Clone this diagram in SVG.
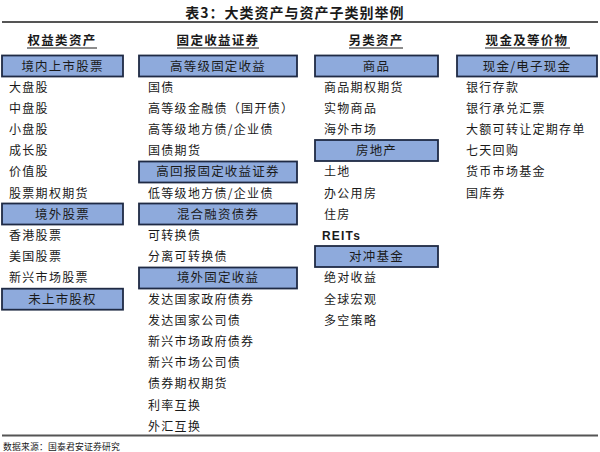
<svg xmlns="http://www.w3.org/2000/svg" width="600" height="452" viewBox="0 0 600 452">
<style>
text{font-family:"Noto Sans CJK SC","Noto Sans",sans-serif;fill:#1a1a1a}
.t{font-size:14px;font-weight:bold;letter-spacing:1px}
.h{font-size:12.5px;font-weight:bold;letter-spacing:1.3px;text-anchor:middle}
.b{fill:#8eaadc;stroke:#1f2a44;stroke-width:1.8}
.bt{font-size:12.5px;letter-spacing:1.2px;text-anchor:middle}
.i{font-size:12px;letter-spacing:1.3px}
.rule{stroke:#555;stroke-width:2.2}
.ul{stroke:#1a1a1a;stroke-width:1}
.f{font-size:8.8px;letter-spacing:0.2px}
.r{font-family:"Liberation Sans",sans-serif;font-weight:bold;font-size:12px;letter-spacing:1.2px}
</style>
<rect width="600" height="452" fill="#fff"/>
<text class="t" x="295" y="18" text-anchor="middle">表3：大类资产与资产子类别举例</text>
<line class="rule" x1="2" y1="22" x2="598" y2="22"/>
<line class="rule" x1="2" y1="435.5" x2="598" y2="435.5"/>
<text class="f" x="3" y="450">数据来源：国泰君安证券研究</text>

<g id="col1">
<text class="h" x="62" y="45">权益类资产</text>
<line class="ul" x1="27" y1="48" x2="97" y2="48"/>
<g id="c1b1"><rect class="b" x="2" y="55.5" width="121" height="21"/><text class="bt" x="62.5" y="70.5">境内上市股票</text></g>
<text class="i" x="9" y="91.5">大盘股</text>
<text class="i" x="9" y="112.6">中盘股</text>
<text class="i" x="9" y="133.8">小盘股</text>
<text class="i" x="9" y="155">成长股</text>
<text class="i" x="9" y="176.3">价值股</text>
<text class="i" x="9" y="197.5">股票期权期货</text>
<g id="c1b2"><rect class="b" x="2" y="203.5" width="121" height="21"/><text class="bt" x="62.5" y="218.6">境外股票</text></g>
<text class="i" x="9" y="239.8">香港股票</text>
<text class="i" x="9" y="261">美国股票</text>
<text class="i" x="9" y="282.2">新兴市场股票</text>
<g id="c1b3"><rect class="b" x="2" y="288.7" width="121" height="21"/><text class="bt" x="62.5" y="303.5">未上市股权</text></g>
</g>

<g id="col2">
<text class="h" x="218" y="45">固定收益证券</text>
<line class="ul" x1="177" y1="48" x2="259" y2="48"/>
<g id="c2b1"><rect class="b" x="139" y="55.5" width="158" height="21"/><text class="bt" x="218" y="70.5">高等级固定收益</text></g>
<text class="i" x="148" y="91.5">国债</text>
<text class="i" x="148" y="112.6">高等级金融债（国开债）</text>
<text class="i" x="148" y="133.8">高等级地方债/企业债</text>
<text class="i" x="148" y="155">国债期货</text>
<g id="c2b2"><rect class="b" x="139" y="161.5" width="158" height="21"/><text class="bt" x="218" y="176.3">高回报固定收益证券</text></g>
<text class="i" x="148" y="197.5">低等级地方债/企业债</text>
<g id="c2b3"><rect class="b" x="139" y="203.5" width="158" height="21"/><text class="bt" x="218" y="218.6">混合融资债券</text></g>
<text class="i" x="148" y="239.8">可转换债</text>
<text class="i" x="148" y="261">分离可转换债</text>
<g id="c2b4"><rect class="b" x="139" y="267.5" width="158" height="21"/><text class="bt" x="218" y="282.2">境外固定收益</text></g>
<text class="i" x="148" y="303.5">发达国家政府债券</text>
<text class="i" x="148" y="324.7">发达国家公司债</text>
<text class="i" x="148" y="345.9">新兴市场政府债券</text>
<text class="i" x="148" y="367.1">新兴市场公司债</text>
<text class="i" x="148" y="388.3">债券期权期货</text>
<text class="i" x="148" y="409.5">利率互换</text>
<text class="i" x="148" y="430.7">外汇互换</text>
</g>

<g id="col3">
<text class="h" x="376" y="45">另类资产</text>
<line class="ul" x1="349" y1="48" x2="403" y2="48"/>
<g id="c3b1"><rect class="b" x="315" y="55.5" width="123" height="21"/><text class="bt" x="376.5" y="70.5">商品</text></g>
<text class="i" x="324" y="91.5">商品期权期货</text>
<text class="i" x="324" y="112.6">实物商品</text>
<text class="i" x="324" y="133.8">海外市场</text>
<g id="c3b2"><rect class="b" x="315" y="140" width="123" height="21"/><text class="bt" x="376.5" y="155">房地产</text></g>
<text class="i" x="324" y="176.3">土地</text>
<text class="i" x="324" y="197.5">办公用房</text>
<text class="i" x="324" y="218.6">住房</text>
<text class="r" x="322" y="239.8">REITs</text>
<g id="c3b3"><rect class="b" x="315" y="246" width="123" height="21"/><text class="bt" x="376.5" y="261">对冲基金</text></g>
<text class="i" x="324" y="282.2">绝对收益</text>
<text class="i" x="324" y="303.5">全球宏观</text>
<text class="i" x="324" y="324.7">多空策略</text>
</g>

<g id="col4">
<text class="h" x="527" y="45">现金及等价物</text>
<line class="ul" x1="485" y1="48" x2="570" y2="48"/>
<g id="c4b1"><rect class="b" x="457" y="55.5" width="140" height="21"/><text class="bt" x="527" y="70.5">现金/电子现金</text></g>
<text class="i" x="466" y="91.5">银行存款</text>
<text class="i" x="466" y="112.6">银行承兑汇票</text>
<text class="i" x="466" y="133.8">大额可转让定期存单</text>
<text class="i" x="466" y="155">七天回购</text>
<text class="i" x="466" y="176.3">货币市场基金</text>
<text class="i" x="466" y="197.5">国库券</text>
</g>
<g id="connectors"></g>
</svg>
